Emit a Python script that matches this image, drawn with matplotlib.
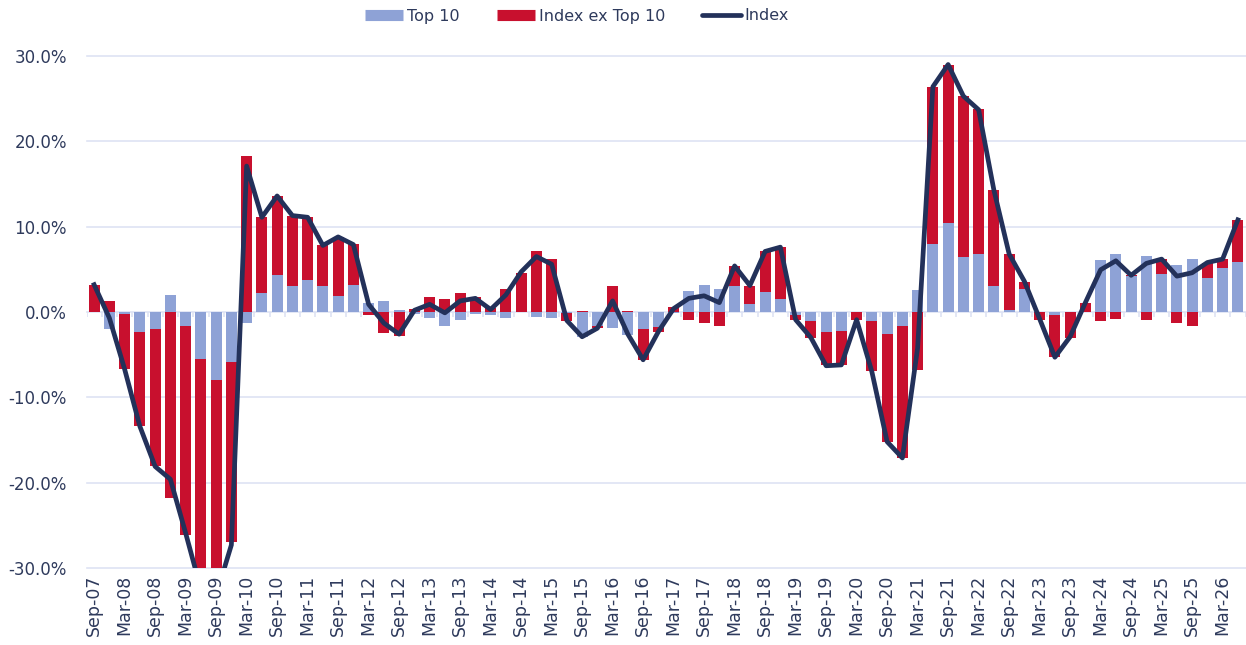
import numpy as np
import matplotlib
matplotlib.use("Agg")
import matplotlib.pyplot as plt
from matplotlib.lines import Line2D

# quarterly contributions to index growth, in %
months = ["Sep", "Dec", "Mar", "Jun"]
quarters = []
for i in range(76):
    yr = 7 + (i + 2) // 4
    quarters.append("{}-{:02d}".format(months[i % 4], yr))

top10 = [0.0, -2.0, -0.2, -2.3, -2.0, 2.0, -1.6, -5.5, -8.0, -5.9,
         -1.3, 2.2, 4.3, 3.1, 3.75, 3.1, 1.9, 3.2, 1.1, 1.3,
         0.2, -0.2, -0.7, -1.6, -0.9, -0.2, -0.4, -0.7, 0.0, -0.6,
         -0.7, -0.1, -2.9, -1.6, -1.85, -2.7, -2.0, -1.7, -0.1, 2.5,
         3.2, 2.7, 3.1, 0.9, 2.4, 1.5, -0.4, -1.0, -2.4, -2.2,
         0.0, -1.05, -2.6, -1.6, 2.6, 8.0, 10.4, 6.4, 6.8, 3.1,
         0.2, 2.7, 0.0, -0.3, 0.0, 0.0, 6.05, 6.8, 4.2, 6.6,
         4.5, 5.5, 6.2, 4.0, 5.2, 5.85]
ex_top10 = [3.2, 1.3, -6.5, -11.1, -16.1, -21.8, -24.5, -27.0, -25.2, -21.0,
            18.3, 8.9, 9.3, 8.2, 7.35, 4.7, 6.9, 4.8, -0.3, -2.5,
            -2.8, 0.4, 1.7, 1.5, 2.2, 1.8, 0.5, 2.7, 4.6, 7.1,
            6.2, -0.9, 0.1, -0.3, 3.1, 0.1, -3.6, -0.6, 0.6, -0.9,
            -1.3, -1.6, 2.3, 2.1, 4.7, 6.1, -0.5, -2.1, -3.8, -4.0,
            -0.9, -5.9, -12.6, -15.5, -6.8, 18.4, 18.6, 18.9, 17.0, 11.2,
            6.6, 0.85, -0.9, -5.0, -3.0, 1.1, -1.1, -0.8, 0.1, -0.9,
            1.7, -1.3, -1.6, 1.8, 1.0, 4.9]
index = [3.2, -0.7, -6.7, -13.4, -18.1, -19.6, -25.9, -32.5, -33.2, -27.3,
         17.1, 11.1, 13.6, 11.3, 11.1, 7.8, 8.8, 7.9, 0.9, -1.3,
         -2.6, 0.2, 0.9, -0.1, 1.3, 1.6, 0.3, 2.0, 4.7, 6.5,
         5.6, -1.0, -2.9, -1.9, 1.3, -2.6, -5.6, -2.3, 0.4, 1.6,
         1.9, 1.1, 5.4, 3.1, 7.1, 7.6, -0.9, -3.0, -6.3, -6.2,
         -0.9, -7.0, -15.2, -17.1, -4.2, 26.4, 29.0, 25.3, 23.7, 14.3,
         6.8, 3.6, -0.8, -5.3, -2.9, 1.1, 4.95, 6.0, 4.3, 5.7,
         6.2, 4.2, 4.6, 5.8, 6.2, 10.8]

blue = "#8EA2D6"
red = "#C8102E"
navy = "#23315A"
grid_c = "#DEE3F3"
text_c = "#2E3A5C"

plt.rcParams["font.family"] = ["DejaVu Sans"]

top10 = np.array(top10)
ex_top10 = np.array(ex_top10)
x = np.arange(len(quarters))
# excel style stacking: same sign stacks on top of Top 10, else starts at zero
red_bottom = np.where(np.sign(ex_top10) == np.sign(top10), top10, 0.0)

fig = plt.figure(figsize=(12.46, 6.45), dpi=100)
ax = fig.add_axes([86.5 / 1246, 1 - 568 / 645, 1159 / 1246, 512 / 645])

ax.bar(x, top10, width=0.72, color=blue, zorder=2)
ax.bar(x, ex_top10, bottom=red_bottom, width=0.72, color=red, zorder=2)
ax.plot(x, index, color=navy, lw=3.4, zorder=3)
ax.vlines(np.arange(len(x) + 1) - 0.5, -0.6, 0, color=grid_c, lw=1.2, zorder=1)

ax.set_xlim(-0.5, len(x) - 0.5)
ax.set_ylim(-30, 30)
ax.set_yticks(np.arange(-30, 31, 10))
ax.set_yticklabels(["{:.1f}%".format(v) for v in np.arange(-30, 31, 10)])
ax.set_xticks(x[::2])
ax.set_xticklabels(quarters[::2], rotation=90)
ax.yaxis.grid(True, color=grid_c, lw=1.2, zorder=0)
for line in ax.get_ygridlines():
    line.set_clip_on(False)
ax.set_axisbelow(True)
for s in ax.spines.values():
    s.set_visible(False)
ax.tick_params(axis="y", length=0, pad=14, labelsize=12, labelcolor=text_c)
ax.tick_params(axis="x", length=0, pad=5, labelsize=12.5, labelcolor=text_c)

handles = [Line2D([], [], color=blue, lw=8, solid_capstyle="butt"),
           Line2D([], [], color=red, lw=8, solid_capstyle="butt"),
           Line2D([], [], color=navy, lw=3.4, solid_capstyle="round")]
fig.legend(handles, ["Top 10", "Index ex Top 10", "Index"], loc="center",
           bbox_to_anchor=(577 / 1246, 1 - 16 / 645), ncol=3, frameon=False,
           fontsize=11.5, handlelength=2.4, handletextpad=0.25,
           columnspacing=2.3, labelcolor=text_c)

fig.savefig("out.png", dpi=100)
